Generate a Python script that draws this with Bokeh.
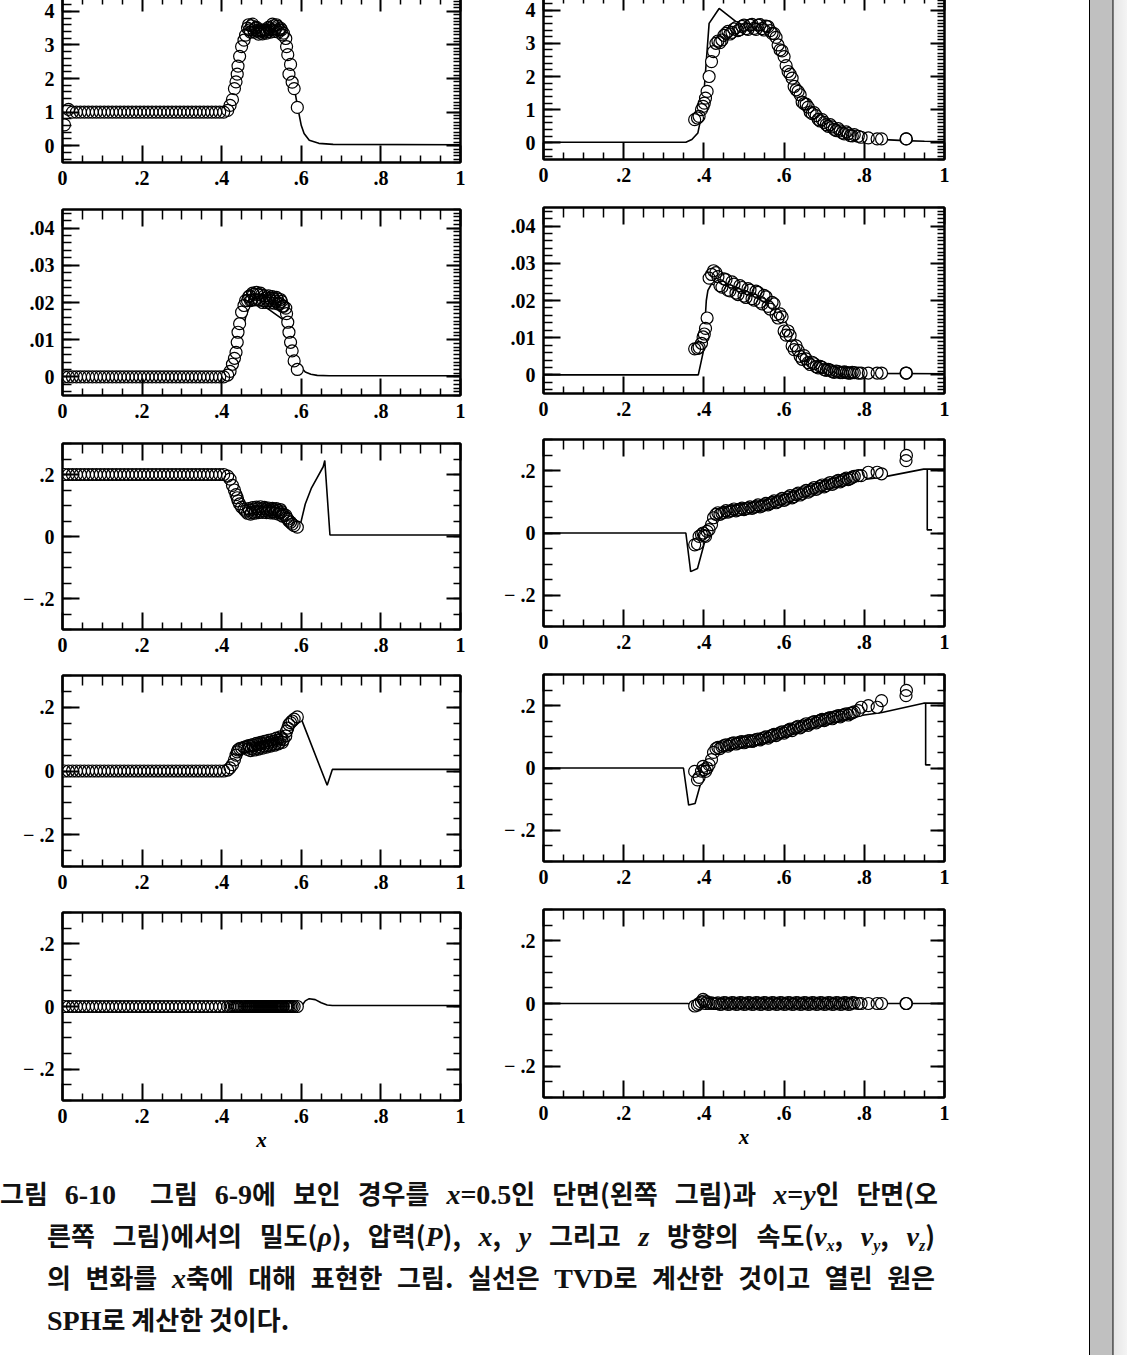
from bokeh.plotting import figure
from bokeh.layouts import row, column
from bokeh.models import Range1d, LinearAxis, FixedTicker, CustomJSTickFormatter, Label, Div, Spacer
from bokeh.embed import file_html
from bokeh.resources import INLINE

# ---------------- SPH particles, cut x = 0.5 (left column) ----------------
L_X = [0.005, 0.015, 0.025, 0.035, 0.045, 0.055, 0.065, 0.075, 0.085, 0.095,
       0.105, 0.115, 0.125, 0.135, 0.145, 0.155, 0.165, 0.175, 0.185, 0.195,
       0.205, 0.215, 0.225, 0.235, 0.245, 0.255, 0.265, 0.275, 0.285, 0.295,
       0.305, 0.315, 0.325, 0.335, 0.345, 0.355, 0.365, 0.375, 0.385, 0.395,
       0.405,
       0.415, 0.421, 0.427, 0.432, 0.436, 0.439, 0.441, 0.445, 0.450, 0.456, 0.460,
       0.465, 0.47, 0.475, 0.48, 0.485, 0.49, 0.495, 0.5, 0.505, 0.51,
       0.515, 0.52, 0.525, 0.53, 0.535, 0.54, 0.545, 0.55, 0.555,
       0.561, 0.563, 0.566, 0.569, 0.573, 0.577, 0.582, 0.59,
       0.4675, 0.4725, 0.4775, 0.4825, 0.4875, 0.4925, 0.4975, 0.5025, 0.5075,
       0.5125, 0.5175, 0.5225, 0.5275, 0.5325, 0.5375, 0.5425, 0.5475, 0.5525]
L_RHO = [0.62, 1.08, 1.0, 1.0, 1.0, 1.0, 1.0, 1.0, 1.0, 1.0,
         1.0, 1.0, 1.0, 1.0, 1.0, 1.0, 1.0, 1.0, 1.0, 1.0,
         1.0, 1.0, 1.0, 1.0, 1.0, 1.0, 1.0, 1.0, 1.0, 1.0,
         1.0, 1.0, 1.0, 1.0, 1.0, 1.0, 1.0, 1.0, 1.0, 1.0,
         1.0,
         1.05, 1.2, 1.37, 1.7, 1.9, 2.13, 2.37, 2.66, 2.95, 3.14, 3.29,
         3.5, 3.45, 3.57, 3.45, 3.5, 3.42, 3.38, 3.42, 3.38, 3.44,
         3.4, 3.48, 3.45, 3.57, 3.48, 3.55, 3.45, 3.45, 3.35,
         3.19, 2.95, 2.71, 2.13, 2.42, 1.89, 1.70, 1.14,
         3.6, 3.38, 3.62, 3.38, 3.52, 3.32, 3.45, 3.33, 3.45,
         3.35, 3.52, 3.38, 3.62, 3.4, 3.6, 3.38, 3.5, 3.3]
L_P = [0.0, 0.0, 0.0, 0.0, 0.0, 0.0, 0.0, 0.0, 0.0, 0.0,
       0.0, 0.0, 0.0, 0.0, 0.0, 0.0, 0.0, 0.0, 0.0, 0.0,
       0.0, 0.0, 0.0, 0.0, 0.0, 0.0, 0.0, 0.0, 0.0, 0.0,
       0.0, 0.0, 0.0, 0.0, 0.0, 0.0, 0.0, 0.0, 0.0, 0.0,
       0.0,
       0.0005, 0.0015, 0.0034, 0.005, 0.0066, 0.0093, 0.012, 0.0143, 0.0174, 0.0192, 0.0205,
       0.0205, 0.0218, 0.0207, 0.0222, 0.0208, 0.0222, 0.0207, 0.022, 0.0205, 0.0212,
       0.0205, 0.0212, 0.0205, 0.0211, 0.0204, 0.021, 0.0198, 0.0203, 0.019,
       0.0185, 0.017, 0.0147, 0.012, 0.0093, 0.007, 0.0043, 0.002,
       0.0215, 0.0205, 0.0225, 0.0207, 0.0227, 0.0206, 0.0225, 0.02, 0.0218,
       0.02, 0.0218, 0.0199, 0.0216, 0.0198, 0.0214, 0.0196, 0.0208, 0.019]
L_VX = [0.2, 0.2, 0.2, 0.2, 0.2, 0.2, 0.2, 0.2, 0.2, 0.2,
        0.2, 0.2, 0.2, 0.2, 0.2, 0.2, 0.2, 0.2, 0.2, 0.2,
        0.2, 0.2, 0.2, 0.2, 0.2, 0.2, 0.2, 0.2, 0.2, 0.2,
        0.2, 0.2, 0.2, 0.2, 0.2, 0.2, 0.2, 0.2, 0.2, 0.2,
        0.2,
        0.195, 0.185, 0.165, 0.15, 0.135, 0.125, 0.115, 0.105, 0.095, 0.088, 0.082,
        0.075, 0.085, 0.077, 0.088, 0.08, 0.09, 0.082, 0.09, 0.083, 0.089,
        0.082, 0.087, 0.08, 0.087, 0.08, 0.085, 0.077, 0.08, 0.072,
        0.068, 0.06, 0.056, 0.05, 0.046, 0.04, 0.035, 0.03,
        0.09, 0.072, 0.093, 0.075, 0.095, 0.077, 0.096, 0.078, 0.094,
        0.077, 0.092, 0.076, 0.091, 0.075, 0.09, 0.072, 0.087, 0.066]
L_VY = [0.0, 0.0, 0.0, 0.0, 0.0, 0.0, 0.0, 0.0, 0.0, 0.0,
        0.0, 0.0, 0.0, 0.0, 0.0, 0.0, 0.0, 0.0, 0.0, 0.0,
        0.0, 0.0, 0.0, 0.0, 0.0, 0.0, 0.0, 0.0, 0.0, 0.0,
        0.0, 0.0, 0.0, 0.0, 0.0, 0.0, 0.0, 0.0, 0.0, 0.0,
        0.0,
        0.003, 0.01, 0.02, 0.035, 0.05, 0.06, 0.066, 0.07, 0.072, 0.074, 0.076,
        0.068, 0.078, 0.07, 0.08, 0.072, 0.083, 0.075, 0.086, 0.078, 0.088,
        0.08, 0.09, 0.083, 0.093, 0.086, 0.097, 0.09, 0.102, 0.098,
        0.11, 0.125, 0.135, 0.146, 0.152, 0.157, 0.163, 0.17,
        0.08, 0.064, 0.083, 0.066, 0.087, 0.069, 0.09, 0.072, 0.093,
        0.075, 0.096, 0.078, 0.099, 0.081, 0.103, 0.085, 0.107, 0.09]
L_VZ = [0.0, 0.0, 0.0, 0.0, 0.0, 0.0, 0.0, 0.0, 0.0, 0.0,
        0.0, 0.0, 0.0, 0.0, 0.0, 0.0, 0.0, 0.0, 0.0, 0.0,
        0.0, 0.0, 0.0, 0.0, 0.0, 0.0, 0.0, 0.0, 0.0, 0.0,
        0.0, 0.0, 0.0, 0.0, 0.0, 0.0, 0.0, 0.0, 0.0, 0.0,
        0.0,
        0.0, 0.0, 0.0, 0.0, 0.0, 0.0, 0.0, 0.0, 0.0, 0.0, 0.0,
        0.0, 0.0, 0.0, 0.0, 0.0, 0.0, 0.0, 0.0, 0.0, 0.0,
        0.0, 0.0, 0.0, 0.0, 0.0, 0.0, 0.0, 0.0, 0.0,
        0.0, 0.0, 0.0, 0.0, 0.0, 0.0, 0.0, 0.0,
        0.0, 0.0, 0.0, 0.0, 0.0, 0.0, 0.0, 0.0, 0.0,
        0.0, 0.0, 0.0, 0.0, 0.0, 0.0, 0.0, 0.0, 0.0]

# ---------------- SPH particles, cut x = y (right column) ----------------
R_X = [0.377, 0.384, 0.388, 0.394, 0.398, 0.401, 0.404, 0.408, 0.413, 0.419, 0.424, 0.430,
       0.435, 0.445, 0.455, 0.465, 0.475, 0.485, 0.495, 0.505, 0.515, 0.525,
       0.535, 0.545, 0.555, 0.565, 0.575, 0.585, 0.595, 0.605, 0.615, 0.625,
       0.635, 0.645, 0.655, 0.665, 0.675, 0.685, 0.695, 0.705, 0.715, 0.725,
       0.735, 0.745, 0.755, 0.765, 0.775,
       0.785, 0.792, 0.81, 0.832, 0.843, 0.904, 0.905,
       0.44, 0.45, 0.46, 0.47, 0.48, 0.49, 0.5, 0.51, 0.52, 0.53,
       0.54, 0.55, 0.56, 0.57, 0.58, 0.59, 0.6, 0.61, 0.62, 0.63,
       0.64, 0.65, 0.66, 0.67, 0.68, 0.69, 0.7, 0.71, 0.72, 0.73,
       0.74, 0.75, 0.76, 0.77]
R_RHO = [0.7, 0.75, 0.8, 1.0, 1.1, 1.2, 1.35, 1.55, 2.0, 2.45, 2.75, 3.0,
         3.07, 3.1, 3.3, 3.28, 3.43, 3.38, 3.51, 3.44, 3.55, 3.45,
         3.55, 3.44, 3.52, 3.38, 3.29, 2.95, 2.77, 2.33, 2.07, 1.7,
         1.55, 1.23, 1.17, 0.93, 0.91, 0.71, 0.7, 0.55, 0.55, 0.41,
         0.43, 0.3, 0.33, 0.22, 0.25,
         0.2, 0.17, 0.15, 0.12, 0.12, 0.12, 0.12,
         3.02, 3.24, 3.36, 3.33, 3.47, 3.41, 3.55, 3.42, 3.57, 3.42,
         3.56, 3.4, 3.5, 3.3, 3.18, 2.8, 2.6, 2.15, 1.95, 1.6,
         1.45, 1.18, 1.08, 0.88, 0.82, 0.66, 0.62, 0.5, 0.48, 0.37,
         0.36, 0.27, 0.28, 0.21]
R_P = [0.007, 0.0071, 0.0074, 0.0085, 0.0102, 0.011, 0.0125, 0.0153, 0.026, 0.027, 0.028, 0.0275,
       0.0264, 0.0236, 0.0256, 0.0226, 0.0244, 0.0216, 0.0235, 0.0208, 0.0228, 0.0201,
       0.0222, 0.0191, 0.021, 0.0177, 0.0191, 0.0153, 0.0156, 0.0107, 0.0106, 0.0068,
       0.0066, 0.0042, 0.0043, 0.0028, 0.003, 0.0019, 0.002, 0.0012, 0.0013, 0.0007,
       0.0009, 0.0006, 0.0007, 0.0005, 0.0006,
       0.0005, 0.0005, 0.0005, 0.0005, 0.0005, 0.0005, 0.0005,
       0.024, 0.0258, 0.0228, 0.025, 0.022, 0.024, 0.0212, 0.0232, 0.0205, 0.0225,
       0.0196, 0.0214, 0.0184, 0.0195, 0.0162, 0.0164, 0.0118, 0.0118, 0.0078, 0.0078,
       0.005, 0.0052, 0.0033, 0.0034, 0.0022, 0.0023, 0.0014, 0.0015, 0.0009, 0.001,
       0.0006, 0.0008, 0.0005, 0.0007]
R_VX = [-0.038, -0.035, -0.011, -0.005, 0.0, -0.008, -0.011, 0.005, 0.011, 0.027, 0.049, 0.06,
        0.065, 0.064, 0.072, 0.07, 0.077, 0.074, 0.08, 0.078, 0.084, 0.082,
        0.09, 0.087, 0.095, 0.094, 0.103, 0.101, 0.111, 0.109, 0.12, 0.117,
        0.128, 0.126, 0.137, 0.135, 0.146, 0.144, 0.154, 0.152, 0.162, 0.16,
        0.169, 0.168, 0.176, 0.175, 0.182,
        0.184, 0.184, 0.195, 0.195, 0.19, 0.232, 0.249,
        0.06, 0.066, 0.067, 0.072, 0.071, 0.076, 0.075, 0.08, 0.079, 0.085,
        0.084, 0.09, 0.09, 0.098, 0.097, 0.106, 0.105, 0.115, 0.113, 0.123,
        0.122, 0.132, 0.131, 0.141, 0.14, 0.15, 0.148, 0.158, 0.156, 0.165,
        0.164, 0.172, 0.171, 0.179]
R_VY = [-0.011, -0.038, -0.03, -0.01, 0.005, -0.005, -0.011, 0.0, 0.011, 0.027, 0.05, 0.062,
        0.066, 0.068, 0.074, 0.075, 0.081, 0.08, 0.085, 0.084, 0.088, 0.088,
        0.093, 0.094, 0.1, 0.101, 0.108, 0.109, 0.116, 0.117, 0.125, 0.126,
        0.134, 0.134, 0.142, 0.142, 0.149, 0.15, 0.156, 0.156, 0.162, 0.163,
        0.168, 0.169, 0.174, 0.175, 0.18,
        0.184, 0.195, 0.2, 0.195, 0.216, 0.232, 0.249,
        0.062, 0.072, 0.07, 0.079, 0.077, 0.083, 0.081, 0.087, 0.085, 0.091,
        0.09, 0.097, 0.096, 0.105, 0.104, 0.113, 0.112, 0.121, 0.12, 0.13,
        0.129, 0.138, 0.137, 0.146, 0.145, 0.153, 0.152, 0.159, 0.158, 0.165,
        0.164, 0.171, 0.17, 0.177]
R_VZ = [-0.008, -0.005, 0.0, 0.005, 0.013, 0.008, 0.0, 0.005, 0.0, 0.002, 0.0, 0.0,
        0.002, -0.002, 0.002, -0.002, 0.002, -0.002, 0.002, -0.002, 0.002, -0.002,
        0.002, -0.002, 0.002, -0.002, 0.002, -0.002, 0.002, -0.002, 0.002, -0.002,
        0.002, -0.002, 0.002, -0.002, 0.002, -0.002, 0.002, -0.002, 0.002, -0.002,
        0.002, -0.002, 0.002, -0.002, 0.002,
        0.0, 0.0, 0.0, 0.0, 0.0, 0.0, 0.0,
        -0.003, 0.003, -0.003, 0.003, -0.003, 0.003, -0.003, 0.003, -0.003, 0.003,
        -0.003, 0.003, -0.003, 0.003, -0.003, 0.003, -0.003, 0.003, -0.003, 0.003,
        -0.003, 0.003, -0.003, 0.003, -0.003, 0.003, -0.003, 0.003, -0.003, 0.003,
        -0.003, 0.003, -0.003, 0.003]

# ---------------- TVD solutions (solid lines) ----------------
L_RHO_TVD_X = [0, 0.40, 0.41, 0.42, 0.43, 0.44, 0.45, 0.46, 0.48, 0.50, 0.52, 0.54, 0.56,
               0.57, 0.58, 0.59, 0.60, 0.607, 0.62, 0.644, 0.68, 1.0]
L_RHO_TVD = [1.0, 1.0, 1.03, 1.15, 1.6, 2.3, 2.9, 3.25, 3.45, 3.5, 3.45, 3.35, 3.1,
             2.7, 1.9, 1.2, 0.6, 0.36, 0.16, 0.07, 0.04, 0.03]
L_P_TVD_X = [0, 0.41, 0.42, 0.43, 0.44, 0.45, 0.46, 0.47, 0.48, 0.49, 0.52, 0.557, 0.57,
             0.58, 0.59, 0.6, 0.61, 0.624, 0.64, 0.67, 1.0]
L_P_TVD = [0.0, 0.0, 0.0005, 0.002, 0.006, 0.011, 0.016, 0.019, 0.0205, 0.0201, 0.018, 0.0152, 0.0125,
           0.009, 0.0045, 0.0025, 0.0013, 0.0007, 0.0004, 0.0003, 0.0003]
L_VX_TVD_X = [0, 0.41, 0.42, 0.43, 0.44, 0.45, 0.5, 0.55, 0.58, 0.597, 0.61, 0.625, 0.64,
              0.655, 0.659, 0.672, 1.0]
L_VX_TVD = [0.2, 0.2, 0.185, 0.155, 0.12, 0.095, 0.085, 0.08, 0.06, 0.035, 0.105, 0.155, 0.19,
            0.225, 0.245, 0.005, 0.005]
L_VY_TVD_X = [0, 0.41, 0.42, 0.43, 0.44, 0.46, 0.5, 0.55, 0.58, 0.598, 0.665, 0.678, 1.0]
L_VY_TVD = [0.0, 0.0, 0.005, 0.02, 0.05, 0.075, 0.085, 0.1, 0.15, 0.17, -0.045, 0.005, 0.005]
L_VZ_TVD_X = [0, 0.6, 0.61, 0.62, 0.635, 0.65, 0.665, 0.678, 1.0]
L_VZ_TVD = [0.0, 0.0, 0.018, 0.025, 0.022, 0.012, 0.005, 0.003, 0.003]

R_RHO_TVD_X = [0, 0.355, 0.37, 0.385, 0.397, 0.405, 0.413, 0.438, 0.48, 0.52, 0.55, 0.57, 0.59,
               0.61, 0.63, 0.65, 0.67, 0.7, 0.73, 0.76, 0.8, 0.85, 0.9, 0.95, 1.0]
R_RHO_TVD = [0.02, 0.02, 0.1, 0.3, 1.0, 2.3, 3.6, 4.05, 3.65, 3.6, 3.55, 3.45, 3.1,
             2.5, 1.9, 1.4, 1.05, 0.65, 0.4, 0.25, 0.15, 0.1, 0.07, 0.05, 0.04]
R_P_TVD_X = [0, 0.386, 0.398, 0.406, 0.41, 0.419, 0.45, 0.5, 0.55, 0.58, 0.6, 0.62, 0.65,
             0.7, 0.75, 0.8, 1.0]
R_P_TVD = [0.0, 0.0, 0.006, 0.02, 0.0227, 0.0245, 0.023, 0.0205, 0.0195, 0.018, 0.015, 0.011, 0.006,
           0.002, 0.0008, 0.0004, 0.0003]
R_VX_TVD_X = [0, 0.355, 0.367, 0.384, 0.417, 0.45, 0.5, 0.6, 0.7, 0.8, 0.849, 0.948, 1.0]
R_VX_TVD = [0.0, 0.0, -0.124, -0.114, 0.043, 0.07, 0.085, 0.115, 0.147, 0.172, 0.18, 0.205, 0.205]
R_VX_JUMP_X = [0.957, 0.957, 0.969]
R_VX_JUMP = [0.205, 0.01, 0.01]
R_VY_TVD_X = [0, 0.349, 0.362, 0.378, 0.411, 0.45, 0.5, 0.6, 0.7, 0.8, 0.844, 0.948, 1.0]
R_VY_TVD = [0.0, 0.0, -0.119, -0.114, 0.038, 0.068, 0.082, 0.113, 0.145, 0.17, 0.178, 0.208, 0.208]
R_VY_JUMP_X = [0.953, 0.953, 0.965]
R_VY_JUMP = [0.208, 0.01, 0.01]
R_VZ_TVD_X = [0, 0.36, 0.37, 0.38, 0.39, 0.4, 1.0]
R_VZ_TVD = [0.0, 0.0, -0.005, -0.01, -0.008, 0.0, 0.0]

# ---------------- ticks ----------------
X_MAJOR = [0, 0.2, 0.4, 0.6, 0.8, 1]
X_MINOR = [0.05, 0.1, 0.15, 0.25, 0.3, 0.35, 0.45, 0.5, 0.55, 0.65, 0.7, 0.75, 0.85, 0.9, 0.95]
RHO_MAJOR = [0, 1, 2, 3, 4]
P_MAJOR = [0, 0.01, 0.02, 0.03, 0.04]
V_MAJOR = [-0.2, 0, 0.2]
RHO_MINOR_L = [round(-0.4 + 0.2 * i, 2) for i in range(25)]
RHO_MINOR_R = [round(-0.5 + 0.1 * i, 2) for i in range(51)]
P_MINOR_L = [round(-0.004 + 0.002 * i, 4) for i in range(25)]
P_MINOR_R = [round(-0.005 + 0.001 * i, 4) for i in range(51)]
V_MINOR = [round(-0.3 + 0.05 * i, 2) for i in range(13)]

FMT_CODE = r"""
if (Math.abs(tick) < 1e-12) { return "0"; }
const s = String(Math.abs(tick)).replace(/^0\./, ".");
return tick < 0 ? "\u2212 " + s : s;
"""

SERIF = "Liberation Serif"


def panel(w, h, bl, br, bt, bb, yr, ymaj, ymin_l, ymin_r, xlabel=None):
    p = figure(width=w, height=h, x_range=Range1d(0, 1), y_range=Range1d(*yr),
               x_axis_type=None, y_axis_type=None, output_backend="svg",
               toolbar_location=None, min_border_left=bl, min_border_right=br,
               min_border_top=bt, min_border_bottom=bb)
    p.outline_line_color = "black"
    p.outline_line_width = 2
    p.background_fill_color = "white"
    p.border_fill_color = "white"
    specs = [("below", X_MAJOR, X_MINOR, True, 17, 7),
             ("above", X_MAJOR, X_MINOR, False, 17, 10),
             ("left", ymaj, ymin_l, True, 17, 9),
             ("right", ymaj, ymin_r, False, 14, 7)]
    for loc, maj, mn, show, tl, ml in specs:
        ax = LinearAxis(ticker=FixedTicker(ticks=maj, minor_ticks=mn),
                        formatter=CustomJSTickFormatter(code=FMT_CODE))
        ax.axis_line_width = 2
        ax.axis_line_color = "black"
        ax.major_tick_in = tl
        ax.major_tick_out = 0
        ax.minor_tick_in = ml
        ax.minor_tick_out = 0
        ax.major_tick_line_width = 2
        ax.minor_tick_line_width = 1.5
        ax.major_tick_line_color = "black"
        ax.minor_tick_line_color = "black"
        if show:
            ax.major_label_text_font = SERIF
            ax.major_label_text_font_style = "bold"
            ax.major_label_text_font_size = "20px"
            ax.major_label_text_color = "black"
            ax.major_label_standoff = 8
        else:
            ax.major_label_text_font_size = "0px"
            ax.major_label_text_alpha = 0
            ax.major_label_standoff = 0
        if loc == "below" and xlabel:
            ax.axis_label = xlabel
            ax.axis_label_text_font = SERIF
            ax.axis_label_text_font_style = "bold italic"
            ax.axis_label_text_font_size = "21px"
            ax.axis_label_standoff = 2
            ax.axis_label_text_color = "black"
        p.add_layout(ax, loc)
    return p


def draw(p, tx, ty, sx, sy):
    p.line(tx, ty, line_color="black", line_width=1.6)
    # white discs hide the line, then every outline is drawn on top
    p.scatter(sx, sy, marker="circle", size=12, fill_color="white", line_color=None)
    p.scatter(sx, sy, marker="circle", size=12, fill_color=None,
              line_color="black", line_width=1.2)


def side_label(p, y, main, sub=None):
    p.add_layout(Label(x=-53, y=y, x_units="screen", y_units="screen", text=main,
                       text_align="right", text_baseline="middle", text_font=SERIF,
                       text_font_style="italic", text_font_size="22px", text_color="black"))
    if sub:
        p.add_layout(Label(x=-53, y=y - 6, x_units="screen", y_units="screen", text=sub,
                           text_align="left", text_baseline="middle", text_font=SERIF,
                           text_font_style="italic", text_font_size="15px", text_color="black"))


RHO_R = (-0.5, 4.5)
P_R = (-0.005, 0.045)
V_R = (-0.3, 0.3)

# left column
l1 = panel(480, 218, 62, 20, 8, 42, RHO_R, RHO_MAJOR, RHO_MINOR_L, RHO_MINOR_R)
draw(l1, L_RHO_TVD_X, L_RHO_TVD, L_X, L_RHO)
side_label(l1, 94, "ρ")
l2 = panel(480, 234, 62, 20, 5, 43, P_R, P_MAJOR, P_MINOR_L, P_MINOR_R)
draw(l2, L_P_TVD_X, L_P_TVD, L_X, L_P)
side_label(l2, 95, "P")
l3 = panel(480, 232, 62, 20, 5, 41, V_R, V_MAJOR, V_MINOR, V_MINOR)
draw(l3, L_VX_TVD_X, L_VX_TVD, L_X, L_VX)
side_label(l3, 92, "v", "x")
l4 = panel(480, 237, 62, 20, 5, 41, V_R, V_MAJOR, V_MINOR, V_MINOR)
draw(l4, L_VY_TVD_X, L_VY_TVD, L_X, L_VY)
side_label(l4, 95, "v", "y")
l5 = panel(480, 258, 62, 20, 5, 65, V_R, V_MAJOR, V_MINOR, V_MINOR, xlabel="x")
draw(l5, L_VZ_TVD_X, L_VZ_TVD, L_X, L_VZ)
side_label(l5, 93, "v", "z")

# right column
r1 = panel(480, 216, 63, 16, 7, 43, RHO_R, RHO_MAJOR, RHO_MINOR_L, RHO_MINOR_R)
draw(r1, R_RHO_TVD_X, R_RHO_TVD, R_X, R_RHO)
r2 = panel(480, 232, 63, 16, 5, 41, P_R, P_MAJOR, P_MINOR_L, P_MINOR_R)
draw(r2, R_P_TVD_X, R_P_TVD, R_X, R_P)
r3 = panel(480, 235, 63, 16, 5, 43, V_R, V_MAJOR, V_MINOR, V_MINOR)
r3.line(R_VX_JUMP_X, R_VX_JUMP, line_color="black", line_width=1.6)
draw(r3, R_VX_TVD_X, R_VX_TVD, R_X, R_VX)
r4 = panel(480, 235, 63, 16, 5, 43, V_R, V_MAJOR, V_MINOR, V_MINOR)
r4.line(R_VY_JUMP_X, R_VY_JUMP, line_color="black", line_width=1.6)
draw(r4, R_VY_TVD_X, R_VY_TVD, R_X, R_VY)
r5 = panel(480, 261, 63, 16, 5, 68, V_R, V_MAJOR, V_MINOR, V_MINOR, xlabel="x")
draw(r5, R_VZ_TVD_X, R_VZ_TVD, R_X, R_VZ)

# caption
IT = "font-family:'Liberation Serif';font-style:italic;font-size:28px;line-height:42px;"
RM = "font-family:'Liberation Serif';font-size:28px;line-height:42px;"


def it(s):
    return f'<span style="{IT}">{s}</span>'


def rm(s):
    return f'<span style="{RM}">{s}</span>'


def vsub(c):
    return (f'<span style="{IT}">v<sub style="font-size:16px;line-height:0;'
            f'vertical-align:-5px">{c}</sub></span>')


LINE1 = (f"그림 {rm('6-10')}&nbsp; 그림 {rm('6-9')}에 보인 경우를 {it('x')}{rm('=0.5')}인 "
         f"단면(왼쪽 그림)과 {it('x')}{rm('=')}{it('y')}인 단면(오")
LINE2 = (f"른쪽 그림)에서의 밀도({it('ρ')}), 압력({it('P')}), {it('x')}, {it('y')} 그리고 "
         f"{it('z')} 방향의 속도({vsub('x')}, {vsub('y')}, {vsub('z')})")
LINE3 = (f"의 변화를 {it('x')}축에 대해 표현한 그림. 실선은 {rm('TVD')}로 계산한 것이고 "
         f"열린 원은")
LINE4 = f"{rm('SPH')}로 계산한 것이다."

BASE = ("font-family:'Noto Sans CJK KR';font-size:26px;line-height:42px;"
        "color:#111;font-weight:bold;")
JUST = "height:42px;overflow:visible;text-align:justify;text-align-last:justify;"
cap_html = (f'<div style="{BASE}padding-top:7px;">'
            f'<div style="width:938px;{JUST}">{LINE1}</div>'
            f'<div style="margin-left:47px;width:888px;{JUST}">{LINE2}</div>'
            f'<div style="margin-left:47px;width:888px;{JUST}">{LINE3}</div>'
            f'<div style="margin-left:47px;height:42px;">{LINE4}</div>'
            f'</div>')
caption = Div(text=cap_html, width=960, height=190, margin=0)

BAR_BG = ("linear-gradient(to right, #000 0px, #000 1px, #c0c0c0 1px, #c0c0c0 23px, "
          "#555 23px, #888 25px, #e6e6e6 25px, #f4f4f4 38px)")
bar = Div(text=f'<div style="width:38px;height:1369px;background:{BAR_BG};"></div>',
          width=38, height=1369, margin=0, styles={"background": BAR_BG})

cols = row(column(l1, l2, l3, l4, l5), column(r1, r2, r3, r4, r5))
left_block = column(cols, caption)
root = row(left_block, Spacer(width=129, height=10, margin=0), bar,
           styles={"margin-left": "0px", "margin-top": "-14px"})

open("out.html", "w").write(file_html(root, INLINE))
